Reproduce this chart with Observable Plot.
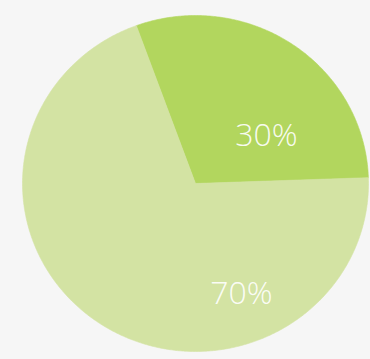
<!DOCTYPE html>
<html>
<head>
<meta charset="utf-8">
<script src="https://cdn.jsdelivr.net/npm/d3@7"></script>
<script src="https://cdn.jsdelivr.net/npm/@observablehq/plot@0.6"></script>
<style>
  html, body { margin: 0; padding: 0; background: #f6f6f6; overflow: hidden; }
  #chart svg { display: block; }
</style>
</head>
<body>
<div id="chart"></div>
<script>
// Data
const categories = ["A", "B"];
const values = [30, 70];
const labels = ["30%", "70%"];
const colors = ["#b2d65e", "#d3e3a3"];

// Layout constants
const W = 370, H = 359;
const cx = 195, cy = 183, rx = 173, ry = 168;
const startDeg = -20;
const labelAngleDeg = [55, 158];
const labelRadius = [0.5, 0.71];

const pie = d3.pie().sort(null).value(d => d.value)
  .startAngle(startDeg * Math.PI / 180)
  .endAngle((startDeg + 360) * Math.PI / 180);
const table = categories.map((c, i) => ({category: c, value: values[i], label: labels[i], color: colors[i]}));
const arcs = pie(table);

function slicePoints(a) {
  const pts = [{x: 0, y: 0}];
  const n = Math.max(2, Math.ceil((a.endAngle - a.startAngle) / (Math.PI / 360)));
  for (let k = 0; k <= n; k++) {
    const t = a.startAngle + (a.endAngle - a.startAngle) * k / n;
    pts.push({x: Math.sin(t), y: Math.cos(t)});
  }
  pts.push({x: 0, y: 0});
  return pts;
}

const labelData = arcs.map((a, i) => {
  const t = labelAngleDeg[i] * Math.PI / 180;
  return {x: labelRadius[i] * Math.sin(t), y: labelRadius[i] * Math.cos(t), text: a.data.label};
});

const chart = Plot.plot({
  width: W,
  height: H,
  margin: 0,
  style: {background: "#f6f6f6"},
  x: {domain: [-cx / rx, (W - cx) / rx], axis: null},
  y: {domain: [(cy - H) / ry, cy / ry], axis: null},
  marks: [
    ...arcs.map(a => Plot.line(slicePoints(a), {
      x: "x", y: "y",
      fill: a.data.color,
      stroke: a.data.color,
      strokeWidth: 0.6,
      curve: "linear"
    })),
    Plot.text(labelData, {
      x: "x", y: "y", text: "text",
      fill: "white",
      fontSize: 32,
      fontFamily: "'Open Sans', 'Noto Sans', sans-serif",
      fontWeight: 300,
      fillOpacity: 0.92
    })
  ]
});
document.getElementById("chart").appendChild(chart);
</script>
</body>
</html>
